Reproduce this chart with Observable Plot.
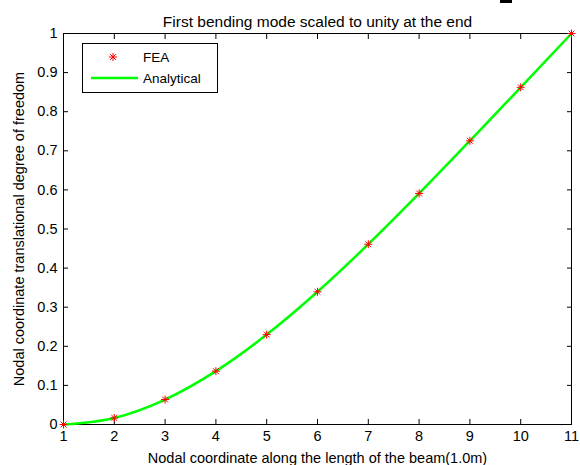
<!DOCTYPE html>
<html>
<head>
<meta charset="utf-8">
<script src="https://cdn.jsdelivr.net/npm/d3@7"></script>
<script src="https://cdn.jsdelivr.net/npm/@observablehq/plot@0.6"></script>
<style>
  html, body { margin: 0; padding: 0; background: #fff; }
  #wrap { position: relative; width: 580px; height: 465px; overflow: hidden; }
  #wrap svg { display: block; }
  #legend { position: absolute; left: 0; top: 0; pointer-events: none; }
  #blip { position: absolute; left: 500px; top: 0; width: 12px; height: 3px; background: #000; }
</style>
</head>
<body>
<div id="wrap"><div id="blip"></div></div>
<script>
// ---- data ----
const title = "First bending mode scaled to unity at the end";
const xLabel = "Nodal coordinate along the length of the beam(1.0m)";
const yLabel = "Nodal coordinate translational degree of freedom";
const seriesNames = ["FEA", "Analytical"];
const nodes = [1, 2, 3, 4, 5, 6, 7, 8, 9, 10, 11];
const feaValues = [0, 0.0168, 0.0639, 0.1365, 0.2299, 0.3395, 0.4611, 0.5909, 0.7255, 0.8624, 1.0];
const analyticalValues = [0, 0.0168, 0.0639, 0.1365, 0.2299, 0.3395, 0.4611, 0.5909, 0.7255, 0.8624, 1.0];
const xTicks = [1, 2, 3, 4, 5, 6, 7, 8, 9, 10, 11];
const yTicks = [0, 0.1, 0.2, 0.3, 0.4, 0.5, 0.6, 0.7, 0.8, 0.9, 1];

const fea = nodes.map((x, i) => ({x, y: feaValues[i]}));
const analytical = nodes.map((x, i) => ({x, y: analyticalValues[i]}));

const starSymbol = {
  draw(context, size) {
    const a = Math.sqrt(size / Math.PI);
    const d = a * 0.72;
    context.moveTo(-a, 0); context.lineTo(a, 0);
    context.moveTo(0, -a); context.lineTo(0, a);
    context.moveTo(-d, -d); context.lineTo(d, d);
    context.moveTo(-d, d); context.lineTo(d, -d);
  }
};

const font = "'Liberation Sans', Arial, Helvetica, sans-serif";

const chart = Plot.plot({
  width: 580,
  height: 465,
  marginLeft: 63,
  marginRight: 9,
  marginTop: 33,
  marginBottom: 41,
  style: {fontFamily: font, fontSize: "14px", color: "#000", background: "#fff"},
  x: {domain: [1, 11]},
  y: {domain: [0, 1]},
  marks: [
    Plot.frame({stroke: "#000", strokeWidth: 1}),
    Plot.axisX({ticks: xTicks, tickSize: -5, tickPadding: 11, tickFormat: d => String(d),
      label: xLabel, labelAnchor: "center", labelArrow: "none", labelOffset: 38, fontSize: 14.5}),
    Plot.axisX({anchor: "top", ticks: xTicks, tickSize: -5, tickFormat: () => "", label: null}),
    Plot.axisY({ticks: yTicks, tickSize: -5, tickPadding: 11, tickFormat: d => String(d),
      label: yLabel, labelAnchor: "center", labelArrow: "none", labelOffset: 50, fontSize: 14.5}),
    Plot.axisY({anchor: "right", ticks: yTicks, tickSize: -5, tickFormat: () => "", label: null}),
    Plot.text([title], {frameAnchor: "top", dy: -18, fontSize: 15.5}),
    Plot.line(analytical, {x: "x", y: "y", stroke: "#00ff00", strokeWidth: 2.5, curve: "monotone-x", clip: false}),
    Plot.dot(fea, {x: "x", y: "y", r: 4, symbol: starSymbol, stroke: "#ff0000", strokeWidth: 1, fill: "none"})
  ]
});
document.getElementById("wrap").appendChild(chart);

// ---- legend overlay ----
const lg = d3.select("#wrap").append("svg").attr("id", "legend").attr("width", 580).attr("height", 465);
lg.append("rect").attr("x", 82.5).attr("y", 43.5).attr("width", 135).attr("height", 49)
  .attr("fill", "#fff").attr("stroke", "#000").attr("stroke-width", 1);
const s = 4, dd = s * 0.72, cx = 113, cy = 57;
lg.append("path").attr("d", `M${cx - s},${cy}L${cx + s},${cy}M${cx},${cy - s}L${cx},${cy + s}M${cx - dd},${cy - dd}L${cx + dd},${cy + dd}M${cx - dd},${cy + dd}L${cx + dd},${cy - dd}`)
  .attr("stroke", "#ff0000").attr("fill", "none");
lg.append("line").attr("x1", 91).attr("x2", 138).attr("y1", 78).attr("y2", 78)
  .attr("stroke", "#00ff00").attr("stroke-width", 2.5);
lg.selectAll("text.lbl").data(seriesNames).join("text").attr("class", "lbl")
  .attr("x", 143).attr("y", (d, i) => i === 0 ? 62 : 83)
  .attr("font-family", font).attr("font-size", 13.5).attr("fill", "#000").text(d => d);
</script>
</body>
</html>
